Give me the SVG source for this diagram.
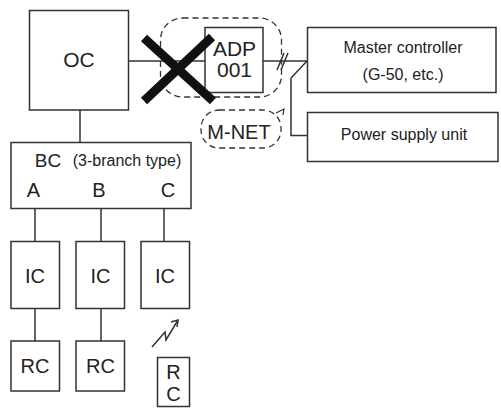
<svg xmlns="http://www.w3.org/2000/svg" width="501" height="412" viewBox="0 0 501 412">
<style>
.box{fill:#fff;stroke:#333;stroke-width:1.5}
.ln{fill:none;stroke:#333;stroke-width:1.5}
.dash{fill:none;stroke:#333;stroke-width:1.3;stroke-dasharray:6 4}
text{font-family:"Liberation Sans",Arial,sans-serif;fill:#222;text-anchor:middle}
.big{font-size:20px}
.mid{font-size:16px}
</style>
<rect width="501" height="412" fill="#fff"/>
<g id="connectors">
<line class="ln" x1="128" y1="61" x2="205" y2="61"/>
<line class="ln" x1="263" y1="61" x2="307.5" y2="61"/>
<polyline class="ln" points="307,61 291,78 291,135.5 307.5,135.5"/>
<line class="ln" x1="277" y1="70" x2="284" y2="53"/>
<line class="ln" x1="281" y1="70" x2="288" y2="53"/>
<line class="ln" x1="80" y1="110" x2="80" y2="142.5"/>
<line class="ln" x1="35" y1="208.5" x2="35" y2="241.5"/>
<line class="ln" x1="101" y1="208.5" x2="101" y2="241.5"/>
<line class="ln" x1="164" y1="208.5" x2="164" y2="241.5"/>
<line class="ln" x1="35" y1="308.5" x2="35" y2="341"/>
<line class="ln" x1="101" y1="308.5" x2="101" y2="341"/>
<polyline class="ln" points="152,347 165,332 166,340 178,320"/>
<polyline class="ln" points="171,322 178,320 177,327"/>
</g>
<g id="oc">
<rect class="box" x="29.5" y="10.5" width="99" height="99.5"/>
<text class="big" x="79" y="67" style="font-size:21px">OC</text>
</g>
<g id="adp-group">
<rect class="dash" x="160.5" y="18" width="121" height="79" rx="22"/>
</g>
<g id="adp">
<rect class="box" x="205" y="27.5" width="58" height="65"/>
<text class="big" x="234.5" y="56" style="font-size:21px">ADP</text>
<text class="big" x="234.5" y="77" style="font-size:21px">001</text>
</g>
<g id="cross">
<line x1="144" y1="38" x2="213" y2="101" stroke="#111" stroke-width="9"/>
<line x1="212" y1="37" x2="144" y2="101" stroke="#111" stroke-width="9"/>
</g>
<g id="master">
<rect class="box" x="307.5" y="27.5" width="188.5" height="65"/>
<text class="mid" x="403" y="53">Master controller</text>
<text class="mid" x="403" y="80">(G-50, etc.)</text>
</g>
<g id="power">
<rect class="box" x="307.5" y="112.5" width="190.5" height="49"/>
<text class="mid" x="404" y="140">Power supply unit</text>
</g>
<g id="mnet">
<rect class="dash" x="201" y="110" width="80" height="38" rx="18"/>
<polyline class="ln" points="276,113 284,109 283,115" style="stroke-width:1.2"/>
<text class="big" x="239" y="139">M-NET</text>
</g>
<g id="bc">
<rect class="box" x="11" y="142.5" width="180" height="66"/>
<text class="big" x="48" y="167" style="font-size:19px">BC</text>
<text x="127" y="166" style="font-size:16px">(3-branch type)</text>
<text class="big" x="33.5" y="197">A</text>
<text class="big" x="99" y="197">B</text>
<text class="big" x="168" y="197">C</text>
</g>
<g id="ic-a">
<rect class="box" x="11" y="241.5" width="48.5" height="67"/>
<text class="big" x="35" y="283">IC</text>
</g>
<g id="ic-b">
<rect class="box" x="76" y="241.5" width="48.5" height="67"/>
<text class="big" x="100.5" y="283">IC</text>
</g>
<g id="ic-c">
<rect class="box" x="141" y="241.5" width="48.5" height="67"/>
<text class="big" x="165" y="283">IC</text>
</g>
<g id="rc-a">
<rect class="box" x="11" y="341" width="48.5" height="50"/>
<text class="big" x="35" y="373">RC</text>
</g>
<g id="rc-b">
<rect class="box" x="76" y="341" width="48.5" height="50"/>
<text class="big" x="100.5" y="373">RC</text>
</g>
<g id="rc-c">
<rect class="box" x="157.5" y="357.5" width="32" height="49"/>
<text class="big" x="173.5" y="379">R</text>
<text class="big" x="173.5" y="401">C</text>
</g>
</svg>
